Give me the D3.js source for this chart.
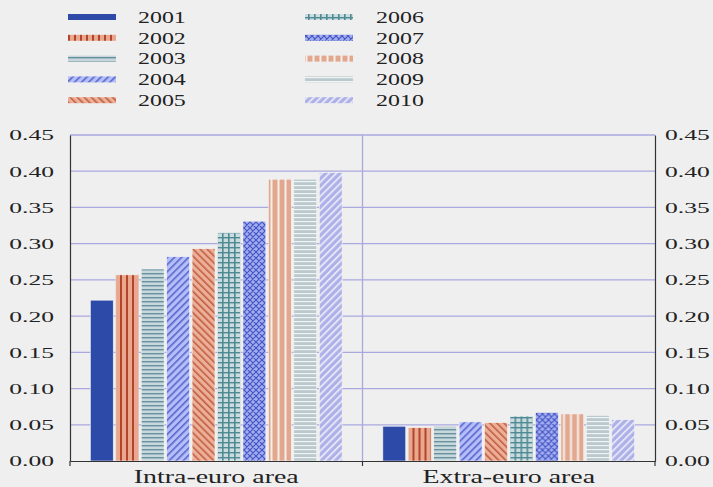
<!DOCTYPE html>
<html><head><meta charset="utf-8">
<script src="https://cdn.jsdelivr.net/npm/d3@7"></script>
<style>
html,body{margin:0;padding:0;background:#efefef;}
svg{display:block;}
text{font-family:"Liberation Serif","Times New Roman",serif;fill:#222;}
</style></head>
<body>
<svg id="c" width="713" height="487"></svg>
<script>
const categories = ["Intra-euro area", "Extra-euro area"];
const years = ["2001","2002","2003","2004","2005","2006","2007","2008","2009","2010"];
const intraValues = [0.222, 0.257, 0.265, 0.282, 0.293, 0.315, 0.331, 0.389, 0.389, 0.398];
const extraValues = [0.048, 0.046, 0.048, 0.054, 0.053, 0.062, 0.067, 0.065, 0.063, 0.057];
const yTicks = [0.00,0.05,0.10,0.15,0.20,0.25,0.30,0.35,0.40,0.45];

const series = [intraValues, extraValues];
const svg = d3.select("#c");
const L = 70, R = 655, T = 135, B = 461;
const SERIF = '"Liberation Serif","Times New Roman",serif';

const x0 = d3.scaleBand().domain(categories).range([L, R]).padding(0);
const x1 = d3.scaleBand().domain(years).range([0, x0.bandwidth()]).paddingInner(0.1).paddingOuter(0.8);
const y = d3.scaleLinear().domain([0, 0.45]).range([B, T]);

// patterns
const defs = svg.append("defs");
function pat(id, w, h, bg, draw, rot) {
  const p = defs.append("pattern").attr("id", id).attr("patternUnits","userSpaceOnUse")
    .attr("width", w).attr("height", h);
  if (rot) p.attr("patternTransform", "rotate(" + rot + ")");
  p.append("rect").attr("width", w).attr("height", h).attr("fill", bg);
  draw(p);
  return "url(#" + id + ")";
}
const fills = {};
fills["2001"] = "#2d4aa8";
fills["2002"] = pat("p2002", 6, 6, "#e9a78d", p => p.append("rect").attr("x",2).attr("width",2).attr("height",6).attr("fill","#b2452b"));
fills["2003"] = pat("p2003", 4, 4, "#c7d7db", p => p.append("rect").attr("y",1).attr("width",4).attr("height",1.4).attr("fill","#6892a0"));
fills["2004"] = pat("p2004", 5, 5, "#b6befa", p => p.append("rect").attr("x",0).attr("width",1.6).attr("height",5).attr("fill","#5566cc"), 45);
fills["2005"] = pat("p2005", 5, 5, "#ecb09a", p => p.append("rect").attr("x",0).attr("width",1.6).attr("height",5).attr("fill","#c25e3e"), -45);
fills["2006"] = pat("p2006", 6, 5, "#cadcde", p => {
  p.append("rect").attr("x",2).attr("width",1.6).attr("height",5).attr("fill","#4f8a94");
  p.append("rect").attr("y",2).attr("width",6).attr("height",1.4).attr("fill","#4f8a94");
});
fills["2007"] = pat("p2007", 6, 6, "#a3aef0", p => {
  p.append("path").attr("d","M0,0L6,6M6,0L0,6M-1,5L1,7M5,-1L7,1M-1,1L1,-1M5,7L7,5").attr("stroke","#4455c4").attr("stroke-width",1.2);
});
fills["2008"] = pat("p2008", 7, 6, "#e2a88f", p => p.append("rect").attr("x",4.5).attr("width",2).attr("height",6).attr("fill","#f6efe9"));
fills["2009"] = pat("p2009", 4, 4, "#b9c9cd", p => p.append("rect").attr("y",1).attr("width",4).attr("height",1.2).attr("fill","#f2f4f4"));
fills["2010"] = pat("p2010", 5, 5, "#aeb1e8", p => p.append("rect").attr("x",0).attr("width",1.6).attr("height",5).attr("fill","#eeeefa"), 45);

// gridlines
svg.append("g").selectAll("line").data(yTicks.filter(d => d > 0)).join("line")
  .attr("x1", L).attr("x2", R).attr("y1", d => y(d)).attr("y2", d => y(d))
  .attr("stroke", "#a9a9e0").attr("stroke-width", 1.3);
// group separator
svg.append("line").attr("x1", x0(categories[1])).attr("x2", x0(categories[1]))
  .attr("y1", T).attr("y2", B).attr("stroke", "#a9a9e0").attr("stroke-width", 1.3);

// bars
const g = svg.append("g");
categories.forEach((c, ci) => {
  g.append("g").attr("transform", `translate(${x0(c)},0)`)
    .selectAll("rect").data(series[ci].map((v, i) => ({year: years[i], v})))
    .join("rect")
    .attr("x", d => x1(d.year)).attr("width", x1.bandwidth())
    .attr("y", d => y(d.v)).attr("height", d => y(0) - y(d.v))
    .attr("fill", d => fills[d.year])
    .attr("stroke", "#f4f4f4").attr("stroke-width", 0.6);
});

// stretched-text helper (the reference type is horizontally wide)
function stretch(sel, s, size) {
  sel.each(function() {
    const t = d3.select(this);
    const x = +t.attr("x") || 0;
    t.attr("x", x / s).attr("transform", `scale(${s},1)`)
      .style("font-family", SERIF).style("font-size", size + "px");
  });
}

// axes
const fmt = d3.format(".2f");
const yl = svg.append("g").attr("transform", `translate(${L},0)`)
  .call(d3.axisLeft(y).tickValues(yTicks).tickFormat(fmt).tickSize(0).tickPadding(16));
const yr = svg.append("g").attr("transform", `translate(${R},0)`)
  .call(d3.axisRight(y).tickValues(yTicks).tickFormat(fmt).tickSize(0).tickPadding(10));
[yl, yr].forEach(a => {
  a.select(".domain").attr("stroke", "#333").attr("stroke-width", 1.2);
  a.selectAll("text").attr("fill", "#333");
  stretch(a.selectAll("text"), 1.65, 15.5);
});
const xa = svg.append("g").attr("transform", `translate(0,${B})`)
  .call(d3.axisBottom(x0).tickSize(0).tickPadding(9));
xa.select(".domain").attr("stroke", "#333").attr("stroke-width", 1.2);
xa.selectAll("text").attr("fill", "#222");
stretch(xa.selectAll("text"), 1.55, 18);
// boundary ticks
svg.append("g").selectAll("line").data([L, x0(categories[1]), R]).join("line")
  .attr("x1", d => d).attr("x2", d => d).attr("y1", B).attr("y2", B + 5)
  .attr("stroke", "#333").attr("stroke-width", 1.2);

// legend
const leg = svg.append("g");
years.forEach((yr_, i) => {
  const col = Math.floor(i / 5), row = i % 5;
  const sx = col === 0 ? 68 : 305, tx = col === 0 ? 138 : 376;
  const cy = 17 + row * 20.8;
  leg.append("rect").attr("x", sx).attr("y", cy - 3).attr("width", 48).attr("height", 6)
    .attr("fill", fills[yr_]);
  const t = leg.append("text").attr("x", tx).attr("y", cy).attr("dy", "0.35em").text(yr_);
  stretch(t, 1.45, 16.5);
});
</script>
</body></html>
